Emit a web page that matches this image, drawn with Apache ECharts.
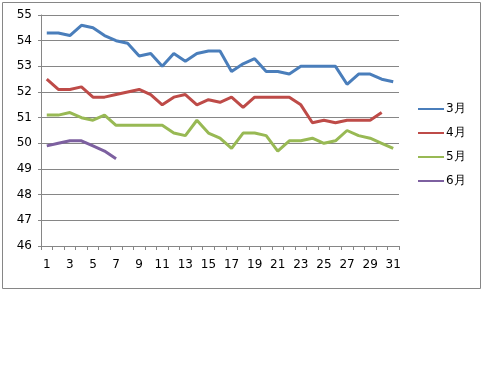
<!DOCTYPE html>
<html>
<head>
<meta charset="utf-8">
<script src="https://cdn.jsdelivr.net/npm/echarts@6/dist/echarts.min.js"></script>
<style>
html,body{margin:0;padding:0;background:#fff;}
#c{width:483px;height:375px;}
</style>
</head>
<body>
<div id="c"></div>
<script>
const days = Array.from({length: 31}, (_, i) => String(i + 1));
const seriesNames = ['3月', '4月', '5月', '6月'];
const mar = [54.3,54.3,54.2,54.6,54.5,54.2,54.0,53.9,53.4,53.5,53.0,53.5,53.2,53.5,53.6,53.6,52.8,53.1,53.3,52.8,52.8,52.7,53.0,53.0,53.0,53.0,52.3,52.7,52.7,52.5,52.4];
const apr = [52.5,52.1,52.1,52.2,51.8,51.8,51.9,52.0,52.1,51.9,51.5,51.8,51.9,51.5,51.7,51.6,51.8,51.4,51.8,51.8,51.8,51.8,51.5,50.8,50.9,50.8,50.9,50.9,50.9,51.2,null];
const may = [51.1,51.1,51.2,51.0,50.9,51.1,50.7,50.7,50.7,50.7,50.7,50.4,50.3,50.9,50.4,50.2,49.8,50.4,50.4,50.3,49.7,50.1,50.1,50.2,50.0,50.1,50.5,50.3,50.2,50.0,49.8];
const jun = [49.9,50.0,50.1,50.1,49.9,49.7,49.4];
const yTicks = {min: 46, max: 55, interval: 1};
const colors = ['#4A7EBB', '#BE4B48', '#98B954', '#7D60A0'];

const font = 'DejaVu Sans';
const chart = echarts.init(document.getElementById('c'), null, {renderer: 'canvas'});
const allData = [mar, apr, may, jun];
chart.setOption({
  animation: false,
  backgroundColor: '#fff',
  color: colors,
  graphic: [{
    type: 'rect',
    shape: {x: 2.5, y: 2.5, width: 478, height: 286},
    style: {fill: 'none', stroke: '#868686', lineWidth: 1},
    silent: true,
    z: -1
  }],
  grid: {left: 41, right: 84, top: 15, bottom: 129, containLabel: false},
  legend: {
    orient: 'vertical',
    left: 413,
    top: 98,
    itemWidth: 26,
    itemHeight: 2,
    itemGap: 12,
    icon: 'rect',
    textStyle: {fontFamily: font, fontSize: 12, color: '#000', padding: [0,0,0,-3]},
    data: seriesNames.map(n => ({name: n, icon: 'rect'}))
  },
  xAxis: {
    type: 'category',
    data: days,
    boundaryGap: true,
    axisLine: {lineStyle: {color: '#868686', width: 1}},
    axisTick: {show: true, length: 4, inside: false, alignWithLabel: false, interval: 0, lineStyle: {color: '#868686'}},
    axisLabel: {interval: 1, margin: 13, fontFamily: font, fontSize: 12, color: '#000'},
    splitLine: {show: false}
  },
  yAxis: {
    type: 'value',
    min: yTicks.min, max: yTicks.max, interval: yTicks.interval,
    axisLine: {show: true, lineStyle: {color: '#868686', width: 1}},
    axisTick: {show: true, length: 3, lineStyle: {color: '#868686'}},
    axisLabel: {margin: 9, fontFamily: font, fontSize: 12, color: '#000'},
    splitLine: {show: true, lineStyle: {color: '#868686', width: 1}}
  },
  series: seriesNames.map((n, i) => ({
    name: n,
    type: 'line',
    data: allData[i],
    symbol: 'none',
    connectNulls: false,
    lineStyle: {width: 3, color: colors[i]},
    itemStyle: {color: colors[i]}
  }))
});
</script>
</body>
</html>
